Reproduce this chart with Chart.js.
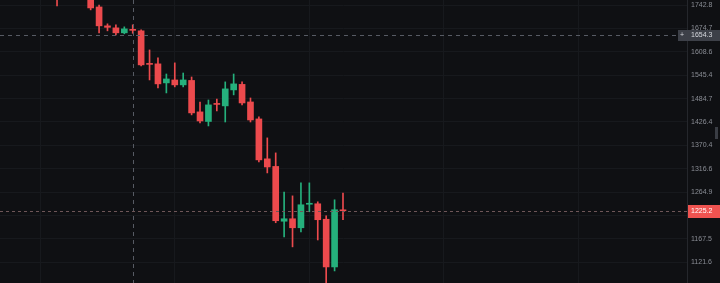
<!DOCTYPE html>
<html>
<head>
<meta charset="utf-8">
<script src="https://cdn.jsdelivr.net/npm/chart.js@4.4.1/dist/chart.umd.min.js"></script>
<style>
  html, body { margin: 0; padding: 0; background: #0f1013; overflow: hidden; }
  canvas { display: block; }
</style>
</head>
<body>
<canvas id="chart" width="720" height="283"></canvas>
<script>
// candle values, one entry per bar (oldest first)
const opens  = [1795, 1768, 1785, 1772, 1766, 1737.0, 1681.7, 1675.9, 1661.7, 1671.6, 1667.4, 1577.0, 1575.7, 1525.2, 1532.9, 1520.0, 1531.6, 1451.3, 1427.7, 1472.5, 1466.3, 1507.0, 1521.3, 1476.2, 1433.9, 1339.2, 1321.9, 1203.5, 1208.6, 1190.1, 1239.0, 1240.0, 1207.6, 1112.9, 1227.0];
const highs  = [1802, 1792, 1795, 1780, 1775, 1742.8, 1687.5, 1684.6, 1678.8, 1684.6, 1670.2, 1613.7, 1591.9, 1548.6, 1578.4, 1551.2, 1540.7, 1476.2, 1481.2, 1483.7, 1527.8, 1548.6, 1527.8, 1486.3, 1438.9, 1388.1, 1352.9, 1265.3, 1256.9, 1285.2, 1285.2, 1244.2, 1214.8, 1248.5, 1263.2];
const lows   = [1740, 1762, 1765, 1760, 1728.3, 1661.7, 1667.4, 1656.1, 1658.9, 1660.3, 1570.3, 1532.9, 1512.2, 1499.2, 1514.8, 1514.8, 1443.9, 1424.0, 1416.8, 1453.8, 1426.4, 1494.2, 1468.8, 1426.4, 1332.2, 1307.3, 1200.4, 1171.6, 1151.8, 1181.9, 1223.2, 1165.5, 1078.0, 1105.3, 1206.6];
const closes = [1768, 1785, 1772, 1766, 1734.1, 1681.7, 1677.4, 1661.7, 1673.0, 1668.8, 1573.0, 1574.3, 1522.6, 1535.5, 1520.0, 1532.9, 1448.8, 1428.9, 1468.8, 1470.0, 1509.6, 1522.6, 1473.7, 1431.4, 1336.8, 1320.7, 1204.5, 1208.6, 1190.1, 1237.9, 1241.1, 1206.6, 1112.9, 1227.4, 1225.2];

// right axis labels
const priceTicks = [1121.6, 1167.5, 1215.6, 1264.9, 1316.6, 1370.4, 1426.4, 1484.7, 1545.4, 1608.6, 1674.7, 1742.8];
const timeGrid = [-2, 14, 30, 46, 62];

const lastPrice = 1225.2;
const crossPrice = 1654.3;
const crossIndex = 9;

const upColor = '#25b07c';
const downColor = '#ec4a4d';

const colors = opens.map((o, i) => closes[i] >= o ? upColor : downColor);
const bodies = opens.map((o, i) => ({ x: i, y: [o, closes[i]] }));
const wicks = lows.map((l, i) => ({ x: i, y: [l, highs[i]] }));

const overlay = {
    id: 'overlay',
    afterDraw(chart) {
        const { ctx, chartArea: area, scales: { x, y } } = chart;
        ctx.save();
        ctx.lineWidth = 1;

        // crosshair
        const cx = Math.round(x.getPixelForValue(crossIndex)) + 0.5;
        const cy = Math.round(y.getPixelForValue(crossPrice)) + 0.5;
        ctx.strokeStyle = '#575b64';
        ctx.setLineDash([4, 4]);
        ctx.beginPath();
        ctx.moveTo(area.left, cy);
        ctx.lineTo(area.right, cy);
        ctx.moveTo(cx, area.top);
        ctx.lineTo(cx, area.bottom);
        ctx.stroke();

        // last price line
        const py = Math.round(y.getPixelForValue(lastPrice)) + 0.5;
        ctx.strokeStyle = '#6e5658';
        ctx.setLineDash([3, 3]);
        ctx.beginPath();
        ctx.moveTo(area.left, py);
        ctx.lineTo(area.right, py);
        ctx.stroke();
        ctx.setLineDash([]);

        ctx.font = '7px "Liberation Sans", Arial, sans-serif';
        ctx.textBaseline = 'middle';
        ctx.textAlign = 'left';

        // crosshair price label
        ctx.fillStyle = '#3d4048';
        ctx.fillRect(678, cy - 5.5, 42, 11);
        ctx.fillStyle = '#d6d8de';
        ctx.fillText('+', 680, cy);
        ctx.fillText(crossPrice.toFixed(1), 691, cy);

        // last price label
        ctx.fillStyle = '#ef5350';
        ctx.fillRect(688, py - 6.5, 32, 13);
        ctx.fillStyle = '#ffffff';
        ctx.fillText(lastPrice.toFixed(1), 691, py);

        // scroll handle
        ctx.fillStyle = '#3a3d44';
        ctx.fillRect(715, 127, 3, 12);

        ctx.restore();
    }
};

const chart = new Chart(document.getElementById('chart').getContext('2d'), {
    type: 'bar',
    data: {
        datasets: [
            { data: bodies, backgroundColor: colors, barThickness: 6, minBarLength: 1, grouped: false, order: 0 },
            { data: wicks, backgroundColor: colors, barThickness: 1, grouped: false, order: 1 }
        ]
    },
    options: {
        responsive: false,
        animation: false,
        devicePixelRatio: 1,
        layout: { padding: 0 },
        plugins: { legend: { display: false }, tooltip: { enabled: false } },
        scales: {
            x: {
                type: 'linear',
                min: -6.78,
                max: 74.9,
                offset: false,
                grid: { color: '#17191d', offset: false, drawTicks: false },
                border: { display: false },
                ticks: { display: false },
                afterBuildTicks: s => { s.ticks = timeGrid.map(v => ({ value: v })); },
                afterFit: s => { s.height = 0; s.paddingLeft = 0; s.paddingRight = 0; }
            },
            y: {
                type: 'logarithmic',
                position: 'right',
                min: 1082.7,
                max: 1757.8,
                bounds: 'data',
                grid: { color: '#17191d', drawTicks: false },
                border: { color: '#25272c' },
                ticks: {
                    color: '#8a8d95',
                    font: { size: 7, family: '"Liberation Sans", Arial, sans-serif' },
                    padding: 4,
                    crossAlign: 'near',
                    autoSkip: false,
                    callback: v => Number(v).toFixed(1)
                },
                afterBuildTicks: s => { s.ticks = priceTicks.map(v => ({ value: v })); },
                afterFit: s => { s.width = 33; s.paddingTop = 0; s.paddingBottom = 0; }
            }
        }
    },
    plugins: [overlay]
});
</script>
</body>
</html>
